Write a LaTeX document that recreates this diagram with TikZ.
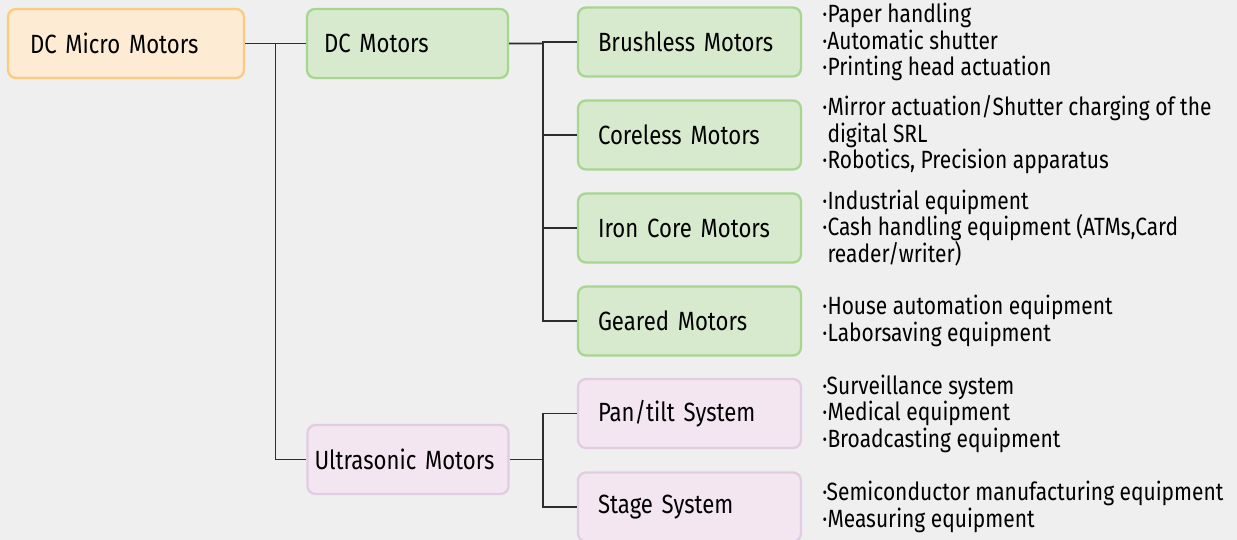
\documentclass[tikz,border=0pt]{standalone}
\usepackage{fontspec}
\setmainfont{Fira Sans}[FakeStretch=0.84]
\usetikzlibrary{positioning,calc}

\definecolor{paper}{RGB}{238,239,238}
\definecolor{rootfill}{RGB}{253,235,211}
\definecolor{rootline}{RGB}{250,203,128}
\definecolor{dcfill}{RGB}{216,234,205}
\definecolor{dcline}{RGB}{166,214,146}
\definecolor{usfill}{RGB}{243,230,241}
\definecolor{usline}{RGB}{226,204,226}
\definecolor{linkgray}{RGB}{45,45,45}

\begin{document}
\begin{tikzpicture}[x=0.02cm,y=-0.02cm,
    box/.style={rounded corners=0.16cm,line width=1.3pt,minimum height=1.38cm,
      inner ysep=0pt,align=left,font=\fontsize{15}{18}\selectfont},
    rootbox/.style={box,draw=rootline,fill=rootfill,text width=3.84cm,inner xsep=0.44cm},
    midbox/.style={box,text width=3.34cm,inner xsep=0.34cm},
    kidbox/.style={box,text width=3.66cm,inner xsep=0.4cm},
    dc/.style={draw=dcline,fill=dcfill},
    us/.style={draw=usline,fill=usfill},
    uses/.style={align=left,inner sep=0pt,font=\fontsize{14.2}{15.1}\selectfont},
    link/.style={draw=linkgray,line width=1pt}]
  \fill[paper] (0,0) rectangle (1237,540);
  \useasboundingbox (0,0) rectangle (1237,540);

  % Top level and the two families
  \node[rootbox] (root) at (126,43.5) {DC Micro Motors};
  \node[midbox,dc] (dcm) at (407.5,43.5) {DC Motors};
  \node[midbox,us,text width=3.74cm,inner xsep=0.14cm] (usm) at (408,459.5) {Ultrasonic Motors};

  % Motor types: {name/label/y/family}
  \foreach \n/\t/\y/\f in {brl/Brushless Motors/42/dc, crl/Coreless Motors/135/dc,
      irc/Iron Core Motors/228/dc, ger/Geared Motors/321/dc,
      pan/Pan\slash tilt System/413.5/us, stg/Stage System/507/us}
    \node[kidbox,\f] (\n) at (689.5,\y) {\t};

  % Applications
  \node[uses,right=0.4cm of brl] (brl-use) {·Paper handling\\·Automatic shutter\\·Printing head actuation};
  \node[uses,right=0.4cm of crl] (crl-use) {·Mirror actuation/Shutter charging of the\\\phantom{·}digital SRL\\·Robotics, Precision apparatus};
  \node[uses,right=0.4cm of irc] (irc-use) {·Industrial equipment\\·Cash handling equipment (ATMs,Card\\\phantom{·}reader/writer)};
  \node[uses,right=0.4cm of ger] (ger-use) {·House automation equipment\\·Laborsaving equipment};
  \node[uses,right=0.4cm of pan] (pan-use) {·Surveillance system\\·Medical equipment\\·Broadcasting equipment};
  \node[uses,right=0.4cm of stg] (stg-use) {·Semiconductor manufacturing equipment\\·Measuring equipment};

  % Tree lines
  \coordinate (jr) at ($(root.east)!0.5!(dcm.west)$);
  \coordinate (jd) at ($(dcm.east)!0.5!(dcm.east -| brl.west)$);
  \coordinate (ju) at (usm.east -| jd);
  \draw[link] (root.east) -- (dcm.west);
  \draw[link] (jr) |- (usm.west);
  \draw[link] (dcm.east) -- (jd);
  \foreach \n in {brl,crl,irc,ger}
    \draw[link] (jd) |- (\n.west);
  \draw[link] (usm.east) -- (ju);
  \foreach \n in {pan,stg}
    \draw[link] (ju) |- (\n.west);
\end{tikzpicture}
\end{document}
